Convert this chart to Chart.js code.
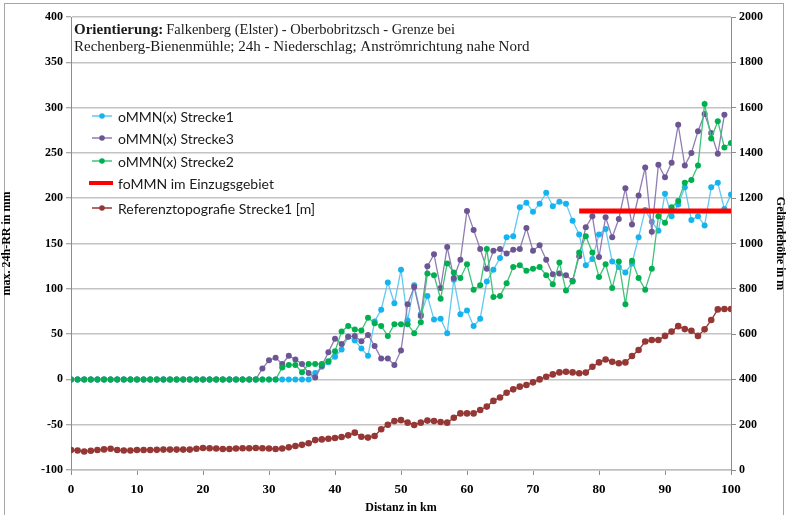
<!DOCTYPE html>
<html>
<head>
<meta charset="utf-8">
<script src="https://cdn.jsdelivr.net/npm/chart.js@4/dist/chart.umd.min.js"></script>
<style>
  html, body { margin: 0; padding: 0; background: #ffffff; }
  #wrap { position: relative; width: 787px; height: 515px; }
  canvas { display: block; }
</style>
</head>
<body>
<div id="wrap"><canvas id="chart" width="787" height="515"></canvas></div>
<script>
// Distance along the route (km)
const distanceKm = [
  0, 1, 2, 3, 4, 5, 6, 7, 8, 9,
  10, 11, 12, 13, 14, 15, 16, 17, 18, 19,
  20, 21, 22, 23, 24, 25, 26, 27, 28, 29,
  30, 31, 32, 33, 34, 35, 36, 37, 38, 39,
  40, 41, 42, 43, 44, 45, 46, 47, 48, 49,
  50, 51, 52, 53, 54, 55, 56, 57, 58, 59,
  60, 61, 62, 63, 64, 65, 66, 67, 68, 69,
  70, 71, 72, 73, 74, 75, 76, 77, 78, 79,
  80, 81, 82, 83, 84, 85, 86, 87, 88, 89,
  90, 91, 92, 93, 94, 95, 96, 97, 98, 99,
  100
];

// oMMN(x) Strecke1, max. 24h precipitation (mm)
const ommnStrecke1 = [
  0, 0, 0, 0, 0, 0, 0, 0, 0, 0,
  0, 0, 0, 0, 0, 0, 0, 0, 0, 0,
  0, 0, 0, 0, 0, 0, 0, 0, 0, 0,
  0, 0, 0, 0, 0, 0, 0, 7, 14, 19,
  25, 33, 47, 43, 34, 26, 64, 77, 107, 84,
  121, 65, 104, 72, 92, 66, 67, 51, 110, 72,
  76, 59, 67, 108, 121, 134, 157, 158, 190, 195,
  185, 194, 206, 191, 196, 194, 175, 160, 126, 133,
  160, 166, 130, 124, 118, 128, 157, 187, 174, 164,
  205, 180, 193, 212, 176, 180, 170, 212, 217, 188,
  204
];

// oMMN(x) Strecke3 (no value at the last kilometre)
const ommnStrecke3 = [
  0, 0, 0, 0, 0, 0, 0, 0, 0, 0,
  0, 0, 0, 0, 0, 0, 0, 0, 0, 0,
  0, 0, 0, 0, 0, 0, 0, 0, 0, 12,
  21, 24, 17, 26, 22, 17, 7, 2, 15, 30,
  45, 39, 47, 48, 42, 49, 37, 23, 23, 16,
  32, 83, 102, 70, 125, 138, 101, 146, 112, 132,
  186, 165, 144, 122, 142, 144, 139, 143, 144, 167,
  142, 148, 132, 116, 117, 115, 109, 136, 168, 180,
  135, 179, 157, 177, 211, 171, 203, 234, 163, 237,
  223, 239, 281, 236, 250, 274, 293, 272, 249, 292,
  null
];

// oMMN(x) Strecke2
const ommnStrecke2 = [
  0, 0, 0, 0, 0, 0, 0, 0, 0, 0,
  0, 0, 0, 0, 0, 0, 0, 0, 0, 0,
  0, 0, 0, 0, 0, 0, 0, 0, 0, 0,
  0, 0, 13, 16, 16, 8, 17, 17, 17, 20,
  31, 53, 59, 55, 54, 68, 62, 59, 48, 61,
  61, 61, 51, 63, 117, 115, 89, 128, 118, 112,
  127, 99, 104, 144, 91, 92, 106, 124, 126, 120,
  122, 124, 115, 105, 129, 98, 108, 140, 158, 140,
  113, 127, 101, 130, 83, 131, 112, 99, 122, 180,
  173, 190, 197, 217, 220, 236, 304, 266, 285, 256,
  261
];

// foMMN in the catchment: constant level over its stretch
const fommnKm = [77, 100];
const fommnValue = [186, 186];

// Reference topography of Strecke1, terrain height (m)
const topographyStrecke1 = [
  88, 86, 82, 85, 88, 91, 94, 88, 86, 86,
  88, 88, 88, 89, 90, 90, 90, 90, 90, 94,
  97, 96, 95, 93, 93, 95, 96, 96, 97, 96,
  95, 93, 95, 100, 106, 111, 118, 132, 135, 138,
  141, 146, 153, 165, 147, 143, 150, 180, 200, 216,
  220, 209, 199, 209, 218, 216, 212, 209, 231, 250,
  250, 250, 265, 280, 305, 320, 341, 356, 368, 375,
  387, 400, 412, 422, 431, 434, 431, 427, 430, 456,
  475, 488, 478, 471, 475, 503, 530, 567, 574, 574,
  592, 611, 635, 622, 615, 592, 621, 662, 709, 711,
  711
];

// Axis ranges and ticks
const leftTicks = { min: -100, max: 400, step: 50 };
const rightTicks = { min: 0, max: 2000, step: 200 };
const xTicks = { min: 0, max: 100, step: 10 };

const seriesNames = [
  'oMMN(x) Strecke1',
  'oMMN(x) Strecke3',
  'oMMN(x) Strecke2',
  'foMMN im Einzugsgebiet',
  'Referenztopografie Strecke1 [m]'
];

const titleBold = 'Orientierung:';
const titleRest = 'Falkenberg (Elster) - Oberbobritzsch - Grenze bei';
const titleLine2 = 'Rechenberg-Bienenmühle; 24h - Niederschlag; Anströmrichtung nahe Nord';

const axisTitleLeft = 'max. 24h-RR in mm';
const axisTitleRight = 'Geländehöhe in m';
const axisTitleX = 'Distanz in km';

const pair = (xs, ys) => xs.map((x, i) => ({ x: x, y: ys[i] }));

const style = {
  s1: { line: '#62c9f2', point: '#16b4ee' },
  s3: { line: '#8f7db3', point: '#6b5592' },
  s2: { line: '#3fc27a', point: '#00b050' },
  fo: { line: '#ff0000' },
  topo: { line: '#953735', point: '#953735' }
};

const serif = '"Liberation Serif", "Times New Roman", serif';
const sans = 'Lato, "Open Sans", sans-serif';

// Frame, heading text and the in-plot legend
const decorations = {
  id: 'decorations',
  beforeDraw(chart) {
    const ctx = chart.ctx;
    ctx.save();
    ctx.fillStyle = '#ffffff';
    ctx.fillRect(0, 0, chart.width, chart.height);
    ctx.strokeStyle = '#a6a6a6';
    ctx.lineWidth = 1;
    ctx.strokeRect(4.5, 3.5, 779, 530);
    ctx.restore();
  },
  afterDraw(chart) {
    const ctx = chart.ctx;
    const area = chart.chartArea;
    ctx.save();
    ctx.textBaseline = 'middle';
    ctx.fillStyle = '#1a1a1a';

    // heading
    const hx = area.left + 3;
    ctx.font = 'bold 15px ' + serif;
    ctx.fillText(titleBold, hx, area.top + 13);
    const bw = ctx.measureText(titleBold).width + 3;
    ctx.font = '14.5px ' + serif;
    ctx.fillText(titleRest, hx + bw, area.top + 13);
    ctx.font = '15px ' + serif;
    ctx.fillText(titleLine2, hx, area.top + 30);

    // legend
    const rows = [
      { name: seriesNames[0], c: style.s1, y: 116 },
      { name: seriesNames[1], c: style.s3, y: 138 },
      { name: seriesNames[2], c: style.s2, y: 161 },
      { name: seriesNames[3], c: style.fo, y: 183, thick: true },
      { name: seriesNames[4], c: style.topo, y: 208 }
    ];
    ctx.font = '14px ' + sans;
    rows.forEach(r => {
      ctx.beginPath();
      ctx.strokeStyle = r.c.line;
      ctx.lineWidth = r.thick ? 4 : 1.5;
      ctx.moveTo(r.thick ? 89 : 92, r.y);
      ctx.lineTo(r.thick ? 113 : 112, r.y);
      ctx.stroke();
      if (!r.thick) {
        ctx.beginPath();
        ctx.fillStyle = r.c.point;
        ctx.arc(102, r.y, 2.8, 0, Math.PI * 2);
        ctx.fill();
      }
      ctx.fillStyle = '#1a1a1a';
      ctx.fillText(r.name, 118, r.y + 1);
    });
    ctx.restore();
  }
};

const lineSet = (label, data, c, axis, order, radius) => ({
  label: label,
  data: data,
  yAxisID: axis,
  order: order,
  borderColor: c.line,
  backgroundColor: c.point,
  borderWidth: 1.3,
  pointRadius: radius,
  pointBorderWidth: 0,
  pointBackgroundColor: c.point,
  pointHoverRadius: radius,
  fill: false,
  tension: 0,
  spanGaps: false
});

const plainNumber = v => String(v);
const tickFont = { family: serif, size: 12, weight: 'bold' };
const titleFont = { family: serif, size: 12, weight: 'bold' };

new Chart(document.getElementById('chart'), {
  type: 'line',
  data: {
    datasets: [
      lineSet(seriesNames[0], pair(distanceKm, ommnStrecke1), style.s1, 'y', 4, 3),
      lineSet(seriesNames[1], pair(distanceKm, ommnStrecke3), style.s3, 'y', 3, 3),
      lineSet(seriesNames[2], pair(distanceKm, ommnStrecke2), style.s2, 'y', 2, 3),
      {
        label: seriesNames[3],
        data: pair(fommnKm, fommnValue),
        yAxisID: 'y',
        order: 1,
        borderColor: style.fo.line,
        borderWidth: 5,
        pointRadius: 0,
        fill: false
      },
      lineSet(seriesNames[4], pair(distanceKm, topographyStrecke1), style.topo, 'y2', 0, 3.3)
    ]
  },
  options: {
    responsive: false,
    animation: false,
    devicePixelRatio: 1,
    layout: { padding: { top: 17, left: 0, right: 0, bottom: 0 } },
    plugins: {
      legend: { display: false },
      tooltip: { enabled: false },
      title: { display: false }
    },
    scales: {
      x: {
        type: 'linear',
        min: xTicks.min,
        max: xTicks.max,
        ticks: { stepSize: xTicks.step, font: { family: serif, size: 13, weight: 'bold' }, color: '#000', padding: 7, maxRotation: 0, callback: plainNumber },
        grid: { drawOnChartArea: false, drawTicks: true, tickLength: 5, color: '#8c8c8c', lineWidth: 1 },
        border: { display: true, color: '#bfbfbf', width: 1.5 },
        title: { display: true, text: axisTitleX, font: titleFont, color: '#000', padding: { top: 2, bottom: 0 } },
        afterFit(scale) { scale.height = 45; }
      },
      y: {
        position: 'left',
        min: leftTicks.min,
        max: leftTicks.max,
        ticks: { stepSize: leftTicks.step, font: tickFont, color: '#000', padding: 3, callback: plainNumber },
        grid: { color: '#c3c3c3', lineWidth: 1.5, tickLength: 5, tickColor: '#8c8c8c', tickWidth: 1 },
        border: { display: true, color: '#8c8c8c', width: 1 },
        title: { display: true, text: axisTitleLeft, font: titleFont, color: '#000', padding: { top: 0, bottom: 0 } },
        afterFit(scale) { scale.width = 71; }
      },
      y2: {
        position: 'right',
        min: rightTicks.min,
        max: rightTicks.max,
        ticks: { stepSize: rightTicks.step, font: tickFont, color: '#000', padding: 3, callback: plainNumber },
        grid: { drawOnChartArea: false, tickLength: 5, color: '#8c8c8c', lineWidth: 1 },
        border: { display: true, color: '#8c8c8c', width: 1 },
        title: { display: true, text: axisTitleRight, font: titleFont, color: '#000', padding: { top: 0, bottom: 0 } },
        afterFit(scale) { scale.width = 56; }
      }
    }
  },
  plugins: [decorations]
});
</script>
</body>
</html>
